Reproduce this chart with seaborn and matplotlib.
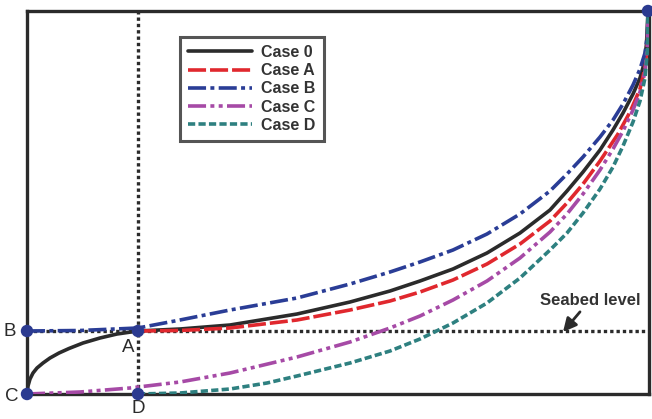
import matplotlib
matplotlib.use("Agg")
import matplotlib.pyplot as plt
import seaborn as sns
import pandas as pd

sns.set_theme(style="white")
plt.rcParams['font.family'] = ['Liberation Sans', 'DejaVu Sans']

# Curves (horizontal position, height) in arbitrary units
case0_x = [0, 1, 3, 6, 10, 16, 23, 32, 42, 56, 73, 90, 111, 153, 203, 270, 323, 363, 393, 426, 460, 493, 523,
           540, 556, 573, 586, 596, 606, 613, 617, 619.5, 621]
case0_y = [0, 8, 15, 21, 26, 31, 36, 41, 45.5, 51, 56, 60, 63, 65, 69, 80, 92, 103, 113, 125, 141, 161, 184,
           203, 222, 244, 264, 281, 300, 316, 330, 350, 383]

caseA_x = [111, 153, 203, 270, 323, 363, 393, 426, 460, 493, 523, 540, 556, 573, 591, 603, 613, 618, 620.5, 621]
caseA_y = [63, 63.5, 66, 74, 84, 93, 102, 114, 130, 150, 173, 191, 210, 233, 260, 282, 305, 326, 350, 383]

caseB_x = [0, 53, 111, 153, 203, 270, 323, 363, 393, 426, 460, 493, 523, 540, 556, 573, 586, 596, 606, 613, 618,
           620.5, 621]
caseB_y = [63, 63.5, 66, 74, 84, 96, 110, 122, 132, 144, 160, 180, 203, 220, 237, 257, 274, 290, 309, 325, 341,
           360, 383]

caseC_x = [0, 53, 103, 153, 203, 270, 323, 363, 393, 426, 460, 493, 523, 540, 556, 573, 586, 596, 606, 613, 618,
           620.5, 621]
caseC_y = [0, 2, 6, 12, 21, 37, 52, 66, 78, 94, 113, 136, 162, 180, 200, 224, 245, 263, 284, 302, 322, 350, 383]

caseD_x = [111, 153, 203, 240, 270, 323, 363, 393, 426, 460, 493, 523, 540, 556, 573, 586, 596, 606, 613, 618,
           620.5, 621]
caseD_y = [0, 1, 5, 11, 18, 31, 43, 55, 71, 91, 116, 144, 161, 181, 205, 227, 248, 272, 293, 316, 345, 383]

series_names = ["Case 0", "Case A", "Case B", "Case C", "Case D"]
colors = ["#2b2b2b", "#e0282e", "#2a3d96", "#a64aa6", "#2e8080"]
styles = ["-", (0, (5, 1.1)), (0, (5, 1.2, 1.1, 1.2)), (0, (5, 1.2, 1.1, 1.2, 1.1, 1.2)), (0, (2, 0.9))]

# Key points
pt_labels = ["B", "C", "A", "D"]
pt_x = [0, 0, 111, 111]
pt_y = [63, 0, 63, 0]
end_x, end_y = 621, 383
seabed_y = 63
xmax, ymax = 622, 383

fig = plt.figure(figsize=(6.52, 4.19), dpi=100)
ax = fig.add_axes([27 / 652, 25 / 419, 622 / 652, 383 / 419])

# guide lines
ax.axhline(seabed_y, color="#2b2b2b", lw=2.4, ls=(0, (1, 0.9)), zorder=1)
ax.axvline(pt_x[2], color="#2b2b2b", lw=2.4, ls=(0, (1, 0.9)), zorder=1)

xs = [case0_x, caseA_x, caseB_x, caseC_x, caseD_x]
ys = [case0_y, caseA_y, caseB_y, caseC_y, caseD_y]
for name, x, y, c, s in zip(series_names, xs, ys, colors, styles):
    df = pd.DataFrame({"x": x, "y": y})
    sns.lineplot(data=df, x="x", y="y", ax=ax, sort=False, estimator=None,
                 color=c, lw=2.6, label=name, zorder=3)
    ax.lines[-1].set_linestyle(s)
    ax.lines[-1].set_solid_joinstyle("round")

sns.scatterplot(x=pt_x + [end_x], y=pt_y + [end_y], ax=ax, color="#2b3a90",
                s=80, edgecolor="none", zorder=5, clip_on=False, legend=False)

offsets = {"B": (-17, 0), "C": (-15, -2), "A": (-10, -16), "D": (0, -14)}
for lab, x, y in zip(pt_labels, pt_x, pt_y):
    dx, dy = offsets[lab]
    ax.annotate(lab, (x, y), xytext=(dx, dy), textcoords="offset pixels",
                ha="center", va="center", fontsize=13.5, color="#2b2b2b", annotation_clip=False)

ax.annotate("Seabed level", xy=(536, seabed_y - 1), xytext=(563, 94), ha="center", va="center",
            fontsize=12, fontweight="bold", color="#333333",
            arrowprops=dict(arrowstyle="-|>", color="#2b2b2b", lw=2.0, mutation_scale=20,
                            shrinkA=1, shrinkB=0))

ax.set_xlim(0, xmax)
ax.set_ylim(0, ymax)
ax.set_xticks([])
ax.set_yticks([])
ax.set_xlabel("")
ax.set_ylabel("")
for sp in ax.spines.values():
    sp.set_color("#2b2b2b")
    sp.set_linewidth(2.4)

leg = ax.legend(loc="upper left", bbox_to_anchor=(153 / 622, 1 - 26 / 383), borderaxespad=0,
                frameon=True, fancybox=False, edgecolor="#2b2b2b", handlelength=4.0,
                handletextpad=0.6, labelspacing=0.2, borderpad=0.5,
                prop={"weight": "bold", "size": 11.5})
leg.get_frame().set_linewidth(2.2)
for h, s in zip(leg.get_lines(), styles):
    h.set_linestyle(s)
    h.set_linewidth(2.6)
for t in leg.get_texts():
    t.set_color("#333333")

fig.savefig("out.png", dpi=100)
